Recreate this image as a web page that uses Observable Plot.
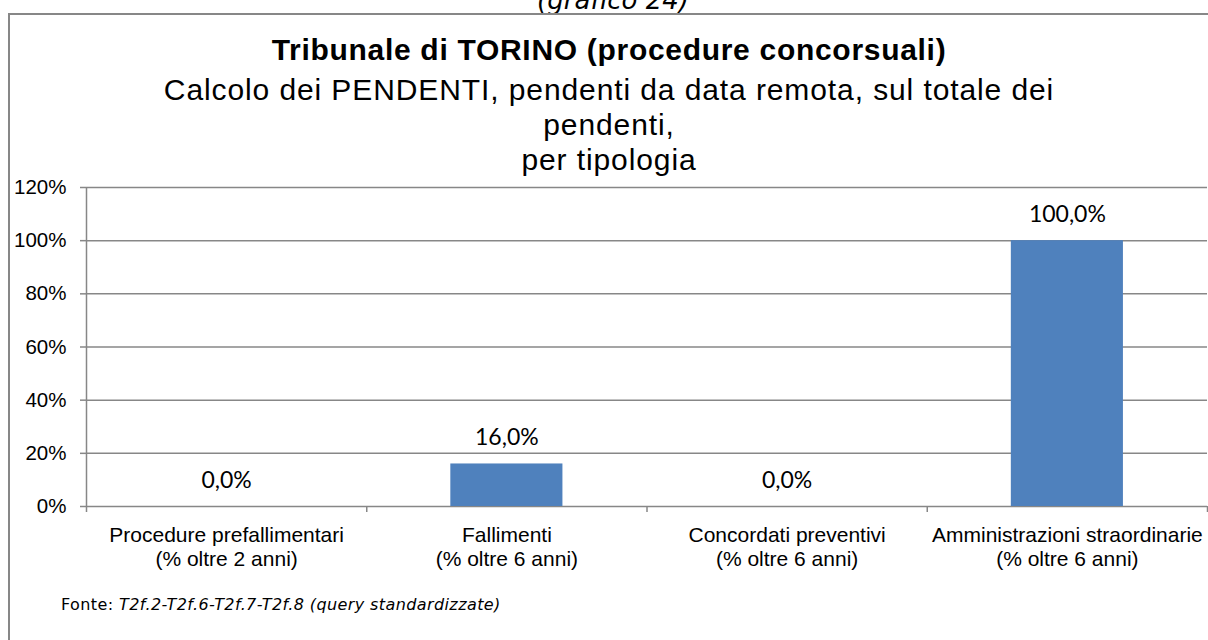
<!DOCTYPE html>
<html>
<head>
<meta charset="utf-8">
<script src="https://cdn.jsdelivr.net/npm/d3@7"></script>
<script src="https://cdn.jsdelivr.net/npm/@observablehq/plot@0.6"></script>
<style>
  body { margin: 0; background: white; }
  #page { position: relative; width: 1208px; height: 640px; overflow: hidden; background: white; }
  .frame { position: absolute; left: 8px; top: 13px; width: 1210px; height: 700px; border-left: 2px solid #878787; border-top: 2px solid #878787; z-index: 5; pointer-events: none; }
  .grafico { position: absolute; left: 13px; width: 1200px; top: -13px; text-align: center; font-family: "DejaVu Sans", Verdana, sans-serif; font-style: italic; font-size: 26px; line-height: 1; color: black; }
  .title { position: absolute; left: 8px; width: 1202px; top: 34.6px; text-align: center; font-family: "Liberation Sans", Arial, sans-serif; font-weight: bold; font-size: 30px; letter-spacing: 0.7px; line-height: 1; color: black; }
  .subtitle { position: absolute; left: 8px; width: 1202px; top: 72px; text-align: center; font-family: "Liberation Sans", Arial, sans-serif; font-size: 30px; letter-spacing: 0.9px; line-height: 35px; color: black; }
  #chart { position: absolute; left: 0; top: 170px; }
  .fonte { position: absolute; left: 61px; top: 596.5px; font-family: "DejaVu Sans", Verdana, sans-serif; font-size: 16px; letter-spacing: 0.4px; line-height: 1; color: black; white-space: nowrap; }
</style>
</head>
<body>
<div id="page">
  <div class="grafico">(grafico 24)</div>
  <div class="frame"></div>
  <div class="title">Tribunale di TORINO (procedure concorsuali)</div>
  <div class="subtitle">Calcolo dei PENDENTI, pendenti da data remota, sul totale dei<br>pendenti,<br>per tipologia</div>
  <div id="chart"></div>
  <div class="fonte">Fonte: <i>T2f.2-T2f.6-T2f.7-T2f.8 (query standardizzate)</i></div>
</div>
<script>
// ---- data ----
const categories = [
  "Procedure prefallimentari\n(% oltre 2 anni)",
  "Fallimenti\n(% oltre 6 anni)",
  "Concordati preventivi\n(% oltre 6 anni)",
  "Amministrazioni straordinarie\n(% oltre 6 anni)"
];
const values = [0.0, 0.16, 0.0, 1.0];
const yTicks = [0, 0.2, 0.4, 0.6, 0.8, 1.0, 1.2];
const yTickLabels = ["0%", "20%", "40%", "60%", "80%", "100%", "120%"];

// ---- derived ----
const gridColor = "#878787";
const barColor = "#4F81BD";
const boundaries = d3.range(categories.length + 1);
const centers = categories.map((d, i) => i + 0.5);
const fmtPct = v => (v * 100).toFixed(1).replace(".", ",") + "%";

const chart = Plot.plot({
  width: 1208,
  height: 400,
  marginLeft: 86,
  marginRight: 1,
  marginTop: 17,
  marginBottom: 64,
  x: {domain: [0, categories.length]},
  y: {domain: [0, 1.2]},
  style: {fontFamily: "'Liberation Sans', Arial, sans-serif", fontSize: "20px", color: "black", background: "transparent", overflow: "visible"},
  marks: [
    Plot.gridY(yTicks, {stroke: gridColor, strokeOpacity: 1, strokeWidth: 1.5}),
    Plot.axisY(yTicks, {tickSize: 6, tickPadding: 14, tickFormat: d => yTickLabels[yTicks.indexOf(d)], stroke: gridColor, strokeWidth: 1.5, fontSize: 20.5, fill: "black", label: null}),
    Plot.ruleX([0], {y1: 0, y2: 1.2, stroke: gridColor, strokeWidth: 1.5}),
    Plot.axisX(boundaries, {tickSize: 6, tickFormat: () => "", stroke: gridColor, strokeWidth: 1.5, label: null}),
    Plot.axisX(centers, {tickSize: 0, tickPadding: 19, tickFormat: d => categories[Math.floor(d)], lineHeight: 1.12, fontSize: 21, fill: "black", label: null}),
    Plot.rectY(values, {x1: (d, i) => i + 0.3, x2: (d, i) => i + 0.7, y1: 0, y2: d => d, fill: barColor}),
    Plot.text(values, {x: (d, i) => i + 0.5, y: d => d, text: fmtPct, lineAnchor: "bottom", dy: -19, fontFamily: "Lato, sans-serif", fontSize: 23, fill: "black"})
  ]
});
document.getElementById("chart").appendChild(chart);
</script>
</body>
</html>
